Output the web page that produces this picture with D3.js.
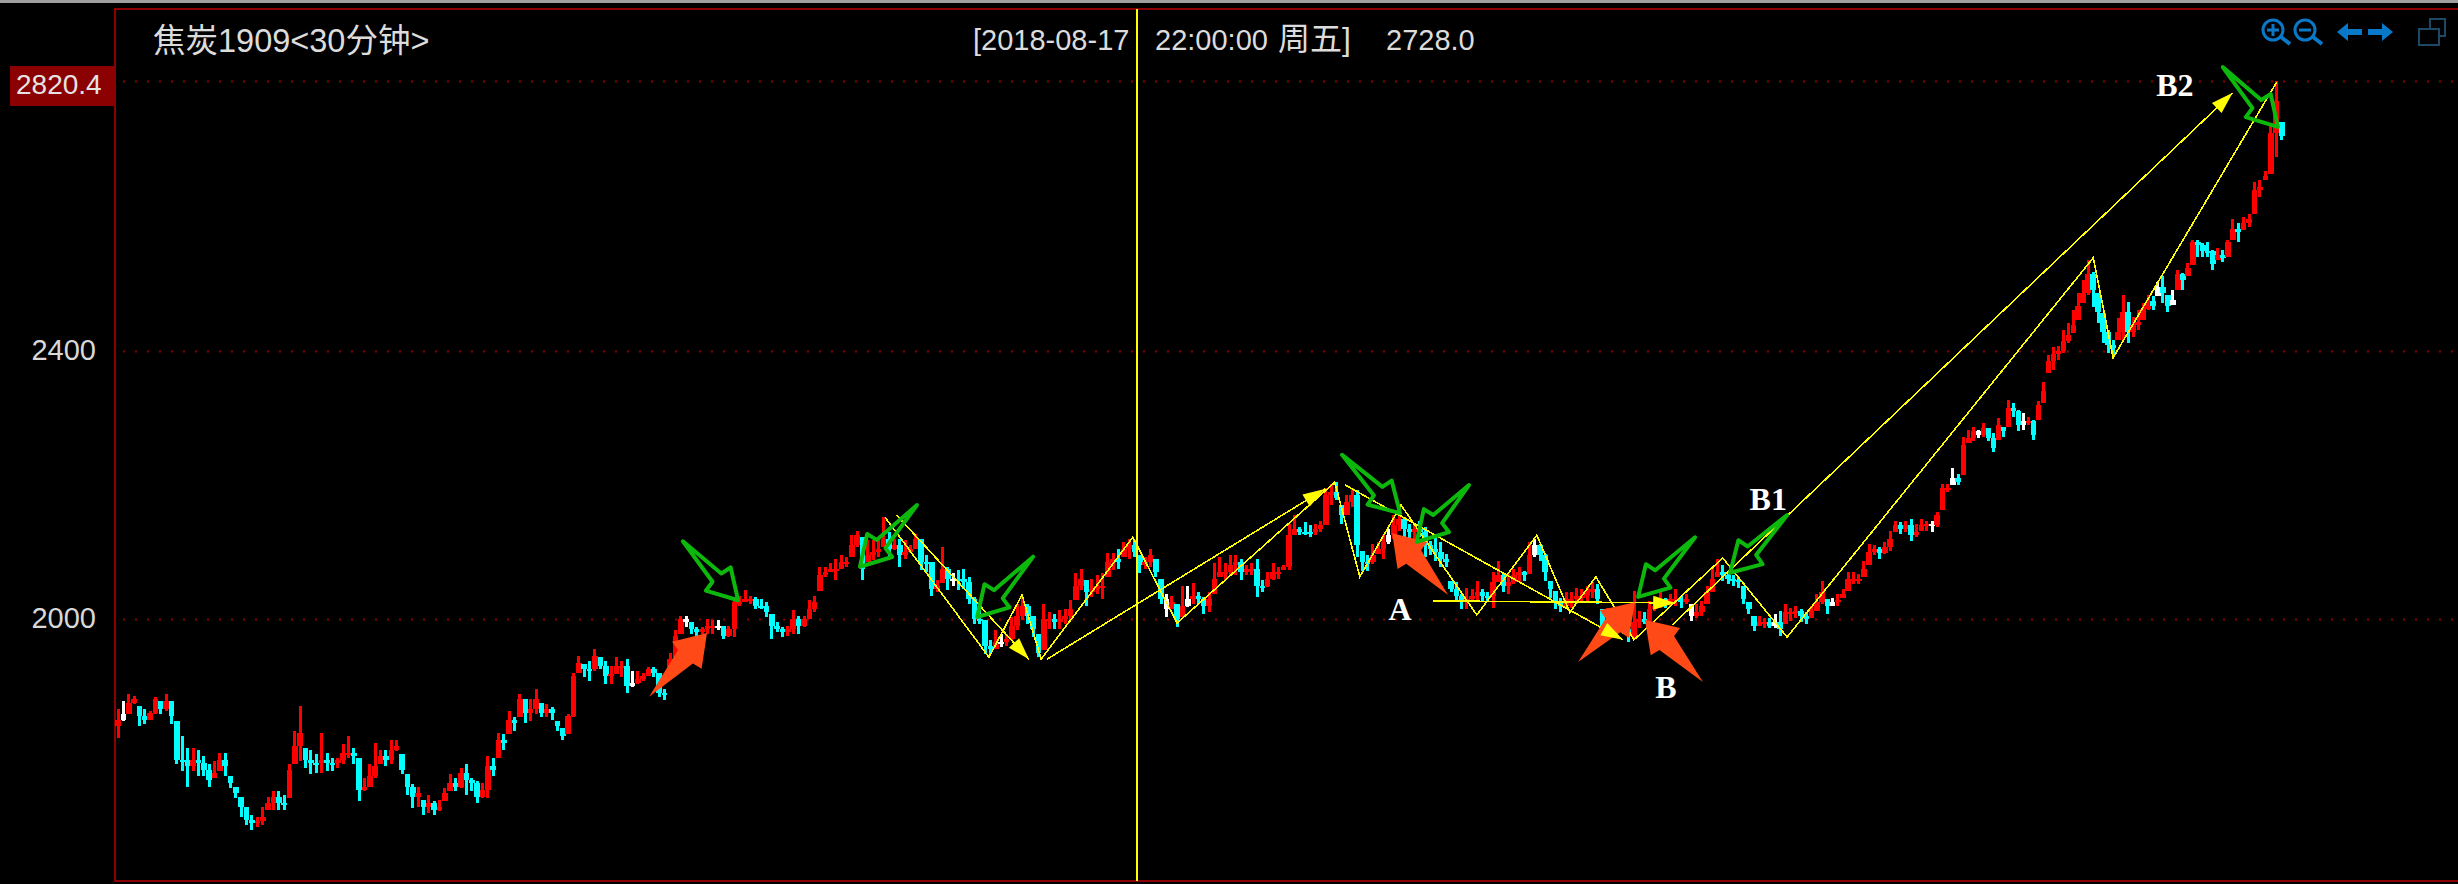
<!DOCTYPE html>
<html>
<head>
<meta charset="utf-8">
<script src="https://d3js.org/d3.v7.min.js"></script>
<style>
  html, body { margin: 0; padding: 0; background: #000; overflow: hidden; }
  text { font-family: "Liberation Sans", "Noto Sans CJK SC", sans-serif; }
</style>
</head>
<body>
<div id="chart"></div>
<script>
const symbolTitle = "焦炭1909<30分钟>";
const cursorDate = "[2018-08-17";
const cursorTime = "22:00:00";
const cursorWeekday = "周五]";
const cursorPrice = "2728.0";
const topPrice = 2820.4;
const priceTicks = [2000, 2400];
const cursorBar = 190.5;
const firstOpen = 1840;
// bars that closed where they opened (drawn white)
const dojiBars = [1, 96, 106, 112, 156, 165, 196, 200, 238, 266, 296, 312, 323, 342, 346, 351, 360, 387, 390];

const highs = [
  1866,1878,1888,1885,1870,1865,1863,1883,1878,1888,
  1878,1848,1825,1808,1808,1805,1795,1783,1788,1800,
  1800,1765,1750,1735,1720,1708,1705,1720,1735,1743,
  1743,1738,1783,1833,1870,1808,1805,1798,1830,1800,
  1793,1793,1813,1825,1808,1793,1763,1783,1815,1805,
  1805,1820,1820,1798,1768,1753,1750,1730,1738,1728,
  1730,1748,1768,1763,1778,1783,1763,1758,1755,1795,
  1793,1830,1828,1863,1853,1888,1880,1880,1895,1875,
  1873,1868,1848,1838,1858,1920,1945,1933,1938,1955,
  1943,1938,1930,1943,1938,1940,1923,1923,1920,1928,
  1928,1920,1895,1950,1983,2005,2005,1995,1988,1988,
  2000,1998,1998,1990,1990,2028,2035,2043,2035,2033,
  2030,2025,2008,1995,1988,1990,2013,2005,
  2004,2028,2035,2078,2078,2083,2090,2095,2093,2125,
  2132,2122,2118,2118,2118,2152,2130,2120,2120,2118,
  2110,2127,2120,2095,2085,2058,2108,2078,2068,2073,
  2075,2063,2033,2013,1998,1968,1983,1978,1978,2003,
  2023,2033,2023,2005,1978,2023,2010,2008,2013,2015,
  2028,2068,2075,2058,2060,2065,2068,2098,2098,2105,
  2115,2120,2118,2095,2093,2105,2090,2060,2038,2035,
  2023,2050,2050,2053,2040,2033,2040,2083,2093,2083,
  2095,2095,2090,2080,2083,2090,2058,2070,2083,2078,
  2080,2142,2155,2137,
  2145,2140,2142,2147,2195,2202,2205,2170,2185,2195,
  2192,2102,2095,2112,2115,2125,2135,2155,2165,2152,
  2142,2142,2147,2137,2117,2122,2115,2097,2057,2055,
  2037,2047,2045,2057,2045,2040,2070,2087,2067,2067,
  2075,2077,2072,2115,2120,2112,2097,2057,2042,2032,
  2040,2040,2047,2045,2050,2055,2052,2015,2017,2012,
  2012,2002,1992,2042,2012,2010,2027,2032,2040,2032,
  2037,2045,2035,2037,2022,2022,2027,2050,2077,2090,
  2080,2067,2065,2062,2050,2025,2005,2005,2002,2002,
  2007,2012,2022,2017,2020,2015,2010,2020,2037,2057,
  2030,2032,2037,2045,2070,2070,2067,2087,2112,2110,
  2107,2115,2132,2147,2145,2147,2150,2142,2150,2147,
  2147,2160,2202,2202,2225,2217,2272,
  2282,2287,2282,2292,2285,2277,2300,2287,2327,2322,
  2312,2307,2302,2297,2325,2354,2394,2407,2408,2433,
  2443,2464,2490,2510,2542,2523,2490,2459,2433,2417,
  2451,2487,2476,2453,2464,2474,2487,2485,2508,2516,
  2487,2495,2526,2521,2537,2573,2573,2568,2570,2557,
  2560,2557,2573,
  2606,2599,2609,2614,2663,2666,2681,2754,2820,2757
];

const lows = [
  1823,1848,1858,1873,1840,1843,1850,1858,1858,1863,
  1843,1783,1773,1750,1773,1765,1765,1750,1763,1773,
  1765,1748,1733,1705,1693,1685,1690,1693,1715,1715,
  1715,1715,1733,1783,1788,1778,1768,1770,1770,1773,
  1773,1778,1783,1793,1783,1728,1743,1750,1763,1783,
  1780,1783,1803,1768,1738,1718,1720,1708,1710,1708,
  1713,1728,1743,1743,1748,1738,1743,1725,1733,1733,
  1765,1793,1805,1828,1833,1853,1845,1848,1858,1853,
  1853,1850,1833,1820,1828,1853,1920,1913,1908,1923,
  1925,1903,1903,1918,1913,1890,1898,1903,1908,1915,
  1913,1883,1879,1928,1943,1978,1988,1978,1973,1978,
  1978,1978,1983,1970,1973,1973,2020,2025,2023,2015,
  2015,2003,1970,1980,1973,1975,1978,1978,
  1988,2000,2010,2042,2063,2070,2058,2075,2078,2093,
  2108,2058,2085,2088,2093,2108,2093,2103,2078,2090,
  2098,2105,2073,2070,2035,2040,2053,2043,2050,2043,
  2045,2023,1993,1993,1948,1948,1955,1958,1960,1968,
  1983,1998,1993,1973,1943,1953,1985,1985,1985,1993,
  1998,2028,2043,2020,2033,2038,2030,2063,2073,2075,
  2093,2090,2093,2068,2075,2078,2063,2023,2003,2015,
  1988,2003,2018,2023,2023,2008,2010,2038,2063,2058,
  2065,2065,2058,2065,2065,2033,2040,2048,2058,2060,
  2073,2073,2125,2125,
  2125,2122,2125,2130,2140,2170,2177,2142,2155,2167,
  2092,2072,2072,2082,2097,2090,2112,2120,2132,2122,
  2117,2117,2122,2092,2095,2087,2077,2077,2040,2027,
  2015,2015,2027,2027,2025,2027,2017,2055,2040,2037,
  2052,2055,2057,2067,2092,2087,2057,2032,2015,2010,
  2015,2017,2022,2027,2027,2032,2022,1982,1987,1992,
  1992,1977,1965,1970,1987,1992,1997,2012,2017,2017,
  2020,2020,2017,2022,1997,2002,2005,2022,2040,2062,
  2057,2052,2050,2047,2022,2007,1982,1990,1987,1987,
  1987,1975,1992,1997,2002,1995,1992,2002,2012,2022,
  2007,2020,2020,2032,2042,2052,2052,2062,2080,2095,
  2090,2097,2102,2130,2127,2130,2117,2122,2132,2132,
  2130,2137,2162,2190,2200,2200,2215,
  2262,2265,2270,2272,2265,2250,2267,2272,2287,2302,
  2280,2282,2290,2267,2297,2322,2367,2371,2387,2397,
  2412,2428,2448,2474,2487,2469,2443,2412,2397,2392,
  2417,2417,2412,2422,2433,2448,2464,2464,2485,2474,
  2461,2472,2495,2495,2516,2534,2547,2547,2547,2526,
  2542,2539,2547,
  2573,2570,2588,2593,2614,2640,2666,2676,2702,2728
];

const closes = [
  1850,1858,1875,1880,1855,1850,1860,1880,1865,1878,
  1855,1790,1790,1780,1790,1785,1775,1760,1770,1790,
  1780,1755,1740,1720,1700,1695,1698,1705,1725,1735,
  1725,1725,1775,1810,1830,1790,1785,1785,1790,1785,
  1785,1790,1800,1800,1795,1745,1750,1765,1780,1795,
  1790,1805,1810,1775,1750,1735,1740,1720,1725,1715,
  1720,1740,1755,1750,1770,1760,1755,1735,1745,1780,
  1775,1820,1815,1850,1845,1880,1860,1865,1880,1860,
  1865,1860,1840,1825,1855,1915,1935,1925,1925,1945,
  1930,1915,1918,1930,1930,1900,1905,1910,1915,1925,
  1920,1890,1890,1940,1975,2000,1995,1985,1980,1985,
  1990,1990,1990,1975,1985,2025,2025,2030,2030,2020,
  2020,2010,1990,1985,1980,1985,2000,1990,
  2000,2015,2025,2065,2070,2075,2075,2085,2085,2110,
  2125,2075,2095,2100,2105,2120,2105,2110,2095,2100,
  2105,2120,2085,2085,2045,2050,2075,2060,2060,2060,
  2055,2030,2000,2000,1960,1955,1965,1965,1970,1990,
  2005,2020,2005,1985,1950,2000,2000,1995,2000,2005,
  2015,2050,2060,2040,2045,2050,2050,2085,2090,2085,
  2105,2110,2100,2080,2085,2095,2070,2030,2015,2025,
  2000,2020,2030,2035,2030,2020,2030,2060,2070,2070,
  2080,2085,2070,2075,2075,2050,2050,2060,2070,2070,
  2078,2125,2135,2130,
  2130,2130,2135,2140,2185,2190,2180,2155,2175,2185,
  2110,2085,2085,2095,2105,2115,2125,2140,2150,2135,
  2130,2135,2130,2110,2105,2100,2090,2085,2045,2035,
  2025,2030,2035,2040,2035,2035,2055,2065,2050,2055,
  2065,2070,2065,2095,2110,2095,2070,2045,2025,2020,
  2030,2030,2035,2035,2040,2045,2030,1990,1995,2000,
  2000,1985,1975,1995,2000,1995,2015,2020,2030,2025,
  2030,2030,2025,2030,2005,2010,2020,2040,2060,2070,
  2065,2060,2058,2055,2030,2015,1990,1995,1995,1990,
  1995,1985,2010,2010,2012,2005,2000,2012,2025,2040,
  2020,2025,2028,2038,2060,2060,2060,2075,2100,2105,
  2098,2108,2120,2140,2135,2140,2125,2130,2140,2142,
  2140,2155,2195,2195,2210,2205,2260,
  2270,2280,2275,2285,2270,2255,2290,2280,2315,2310,
  2290,2295,2295,2275,2320,2340,2385,2395,2400,2415,
  2425,2440,2470,2490,2520,2495,2460,2430,2410,2405,
  2430,2460,2430,2440,2445,2465,2478,2470,2500,2490,
  2470,2480,2520,2510,2530,2570,2565,2555,2555,2535,
  2550,2545,2570,
  2590,2585,2600,2605,2650,2655,2672,2740,2790,2735
];

// bar index -> screen, the sessions are not quite evenly packed
const barKnots = [0, 128, 222, 312, 349, 402, 411];
const barStops = [118, 804, 1305, 1775, 1968.7, 2232.7, 2281.7];

// swing lines, [bar, price]
const zigzagBars = [143.2,162.7,168.9,172.5,189.7,198,227.7,232.5,240.4,254.9,266.4,272.7,277.7,285,302,314.3,374,378,410.1];
const zigzagPrices = [2152,1943,2036,1940,2122,1994,2204,2063,2170,2006,2125,2010,2063,1969,2091,1973,2545,2390,2819];

// [fromBar, fromPrice, toBar, toPrice]
const trendArrows = [
  [145.4,2155,170.2,1940],
  [173.6,1940,225.8,2194],
  [229.7,2200,282.9,1969],
  [246.5,2027,292.9,2024],
  [292.3,1991,402,2802]
];
const greenArrows = [
  [105.4,2116,115.7,2028],
  [149.2,2170,138.5,2078],
  [171,2093,160.5,2003],
  [229.1,2245,240.2,2158],
  [253.4,2200,243.4,2115],
  [296.7,2122,285.8,2033],
  [314.3,2155,303.4,2069],
  [400,2842,410.3,2749]
];
const redArrows = [
  [99.1,1884,109.9,1979],
  [249.4,2036,238.7,2128],
  [274.3,1936,285.2,2025],
  [298.2,1906,287.1,1999]
];
const pointNames = ["A", "B", "B1", "B2"];
const pointBars = [240.2, 291.1, 310.7, 390.4];
const pointPrices = [1999, 1882, 2163, 2797];

const width = 2458, height = 884;
const frame = {left: 115, top: 9, bottom: 881};
const red = "#8b0000";

const svg = d3.select("#chart").append("svg")
    .attr("width", width)
    .attr("height", height)
    .style("display", "block");

const defs = svg.append("defs");
defs.append("filter").attr("id", "soft")
    .append("feGaussianBlur").attr("stdDeviation", 0.6);

const x = d3.scaleLinear().domain(barKnots).range(barStops);
const y = d3.scaleLinear().domain([2000, 2400, topPrice]).range([619, 351, 81]);

// window strip + frame
svg.append("rect").attr("width", width).attr("height", 3).attr("fill", "#a0a0a0");
svg.append("path")
    .attr("d", `M${width},${frame.top}H${frame.left}V${frame.bottom}H${width}`)
    .attr("fill", "none")
    .attr("stroke", red)
    .attr("stroke-width", 2);

// dotted price lines
svg.append("g").selectAll("line")
    .data(priceTicks.concat([topPrice]))
    .join("line")
    .attr("x1", frame.left + 8)
    .attr("x2", width)
    .attr("y1", d => Math.round(y(d)) + 0.5)
    .attr("y2", d => Math.round(y(d)) + 0.5)
    .attr("stroke", red)
    .attr("stroke-width", 2)
    .attr("stroke-dasharray", "2 10");

// price axis
const axis = svg.append("g")
    .attr("transform", "translate(100,0)")
    .call(d3.axisLeft(y).tickValues(priceTicks).tickFormat(d3.format("d")).tickSize(0).tickPadding(4));
axis.select(".domain").remove();
axis.selectAll("text")
    .attr("fill", "#d8d8d8")
    .attr("dy", "0.3em")
    .style("font-size", "29px")
    .style("font-family", '"Liberation Sans", sans-serif');

svg.append("rect")
    .attr("x", 10).attr("y", y(topPrice) - 15)
    .attr("width", 105).attr("height", 40)
    .attr("fill", red);
svg.append("text")
    .attr("x", 16).attr("y", y(topPrice) + 13)
    .attr("fill", "#e4e4e4")
    .style("font-size", "28px")
    .text(topPrice.toFixed(1));

// candles
const opens = closes.map((c, i) => i === 0 ? firstOpen : closes[i - 1]);
const barColor = i => {
    if (dojiBars.includes(i)) return "#ffffff";
    // a flat close keeps the colour of the bar before it
    for (let k = i; k >= 0; k--) {
        if (closes[k] !== opens[k]) return closes[k] > opens[k] ? "#ff0000" : "#00ffff";
    }
    return "#ff0000";
};
const clampPrice = (p, i) => Math.max(lows[i], Math.min(highs[i], p));
const candles = svg.append("g").attr("shape-rendering", "crispEdges");

candles.selectAll("line")
    .data(closes)
    .join("line")
    .attr("x1", (d, i) => x(i))
    .attr("x2", (d, i) => x(i))
    .attr("y1", (d, i) => y(highs[i]))
    .attr("y2", (d, i) => y(lows[i]))
    .attr("stroke", (d, i) => barColor(i))
    .attr("stroke-width", 3);

candles.selectAll("rect")
    .data(closes)
    .join("rect")
    .attr("x", (d, i) => x(i) - 2.8)
    .attr("width", 5.6)
    .attr("y", (d, i) => Math.min(y(clampPrice(opens[i], i)), y(clampPrice(closes[i], i))))
    .attr("height", (d, i) => Math.max(2, Math.abs(y(clampPrice(opens[i], i)) - y(clampPrice(closes[i], i)))))
    .attr("fill", (d, i) => barColor(i));

// swing lines
const swingLine = d3.line().x(d => x(d[0])).y(d => y(d[1]));
const yellow = "#ffff00";
const overlay = svg.append("g").attr("shape-rendering", "crispEdges");

overlay.append("path")
    .attr("d", swingLine(d3.zip(zigzagBars, zigzagPrices)))
    .attr("fill", "none")
    .attr("stroke", yellow)
    .attr("stroke-width", 1.6);

overlay.selectAll(".trend")
    .data(trendArrows)
    .join("line")
    .attr("class", "trend")
    .attr("x1", d => x(d[0])).attr("y1", d => y(d[1]))
    .attr("x2", d => x(d[2])).attr("y2", d => y(d[3]))
    .attr("stroke", yellow)
    .attr("stroke-width", 1.6);

// hand drawn arrows: narrow tail, notched head
function arrowPath(d, headLen, headHalf, neckHalf) {
    const x0 = x(d[0]), y0 = y(d[1]), x1 = x(d[2]), y1 = y(d[3]);
    const len = Math.hypot(x1 - x0, y1 - y0);
    const ux = (x1 - x0) / len, uy = (y1 - y0) / len;
    const at = (along, side) => [x1 - ux * along - uy * side, y1 - uy * along + ux * side];
    return d3.line()([
        [x1, y1],
        at(headLen, headHalf),
        at(headLen + 2, neckHalf),
        [x0, y0],
        at(headLen + 2, -neckHalf),
        at(headLen, -headHalf)
    ]) + "Z";
}

svg.append("g").attr("filter", "url(#soft)")
    .selectAll("path")
    .data(redArrows)
    .join("path")
    .attr("d", d => arrowPath(d, 30, 20, 10))
    .attr("fill", "#ff4a14");

svg.append("g").attr("filter", "url(#soft)")
    .selectAll("path")
    .data(greenArrows)
    .join("path")
    .attr("d", d => arrowPath(d, 29, 17, 6))
    .attr("fill", "none")
    .attr("stroke", "#0cb80c")
    .attr("stroke-width", 4)
    .attr("stroke-linejoin", "round");

// yellow arrow heads sit on top of the red ones
svg.append("g").selectAll("path")
    .data(trendArrows)
    .join("path")
    .attr("d", d => {
        const x0 = x(d[0]), y0 = y(d[1]), x1 = x(d[2]), y1 = y(d[3]);
        const len = Math.hypot(x1 - x0, y1 - y0);
        const ux = (x1 - x0) / len, uy = (y1 - y0) / len;
        return d3.line()([
            [x1, y1],
            [x1 - ux * 22 - uy * 7, y1 - uy * 22 + ux * 7],
            [x1 - ux * 22 + uy * 7, y1 - uy * 22 - ux * 7]
        ]) + "Z";
    })
    .attr("fill", yellow);

// cursor
svg.append("line")
    .attr("x1", Math.round(x(cursorBar))).attr("x2", Math.round(x(cursorBar)))
    .attr("y1", frame.top).attr("y2", frame.bottom)
    .attr("stroke", yellow)
    .attr("stroke-width", 2)
    .attr("shape-rendering", "crispEdges");

// point names
svg.append("g").selectAll("text")
    .data(pointNames)
    .join("text")
    .attr("x", (d, i) => x(pointBars[i]))
    .attr("y", (d, i) => y(pointPrices[i]))
    .attr("text-anchor", "middle")
    .attr("fill", "#ffffff")
    .attr("font-weight", "bold")
    .style("font-family", '"Liberation Serif", serif')
    .style("font-size", "32px")
    .text(d => d);

// header
const header = svg.append("g").attr("fill", "#dcdcdc").style("font-size", "29px");
header.append("text").attr("x", 153).attr("y", 52).style("font-size", "32.5px").text(symbolTitle);
header.append("text").attr("x", 973).attr("y", 50).text(cursorDate);
header.append("text").attr("x", 1155).attr("y", 50).text(cursorTime);
header.append("text").attr("x", 1278).attr("y", 50).style("font-size", "32px").text(cursorWeekday);
header.append("text").attr("x", 1386).attr("y", 50).text(cursorPrice);

// toolbar icons
const blue = "#0a78c8";
const tools = svg.append("g").attr("fill", "none").attr("stroke", blue).attr("stroke-width", 3);
[2273, 2305].forEach((cx, k) => {
    tools.append("circle").attr("cx", cx).attr("cy", 30).attr("r", 10);
    tools.append("line").attr("x1", cx + 8).attr("y1", 37).attr("x2", cx + 17).attr("y2", 44).attr("stroke-width", 4);
    tools.append("line").attr("x1", cx - 6).attr("x2", cx + 6).attr("y1", 30).attr("y2", 30);
    if (k === 0) tools.append("line").attr("x1", cx).attr("x2", cx).attr("y1", 24).attr("y2", 36);
});
tools.append("path")
    .attr("d", "M2337,32L2348,23V29H2362V35H2348V41Z M2393,32L2382,23V29H2368V35H2382V41Z")
    .attr("fill", blue).attr("stroke", "none");
tools.append("path")
    .attr("d", "M2419,29H2439V45H2419Z M2430,29V19H2445V36H2439")
    .attr("stroke", "#1c4a66")
    .attr("stroke-width", 2);
</script>
</body>
</html>
